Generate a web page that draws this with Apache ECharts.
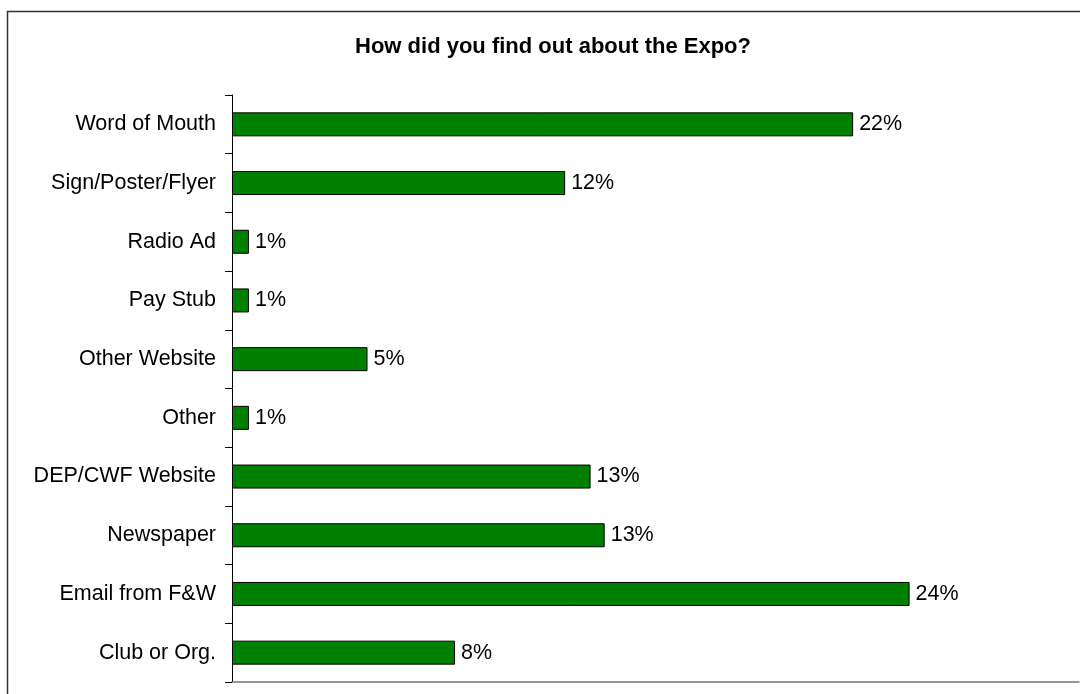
<!DOCTYPE html>
<html>
<head>
<meta charset="utf-8">
<script src="https://cdn.jsdelivr.net/npm/echarts@6/dist/echarts.min.js"></script>
<style>
  html, body { margin: 0; padding: 0; background: #fff; }
  #chart { width: 1080px; height: 694px; }
</style>
</head>
<body>
<div id="chart"></div>
<script>
// Survey answers, listed top to bottom
const categories = [
  'Word of Mouth', 'Sign/Poster/Flyer', 'Radio Ad', 'Pay Stub', 'Other Website',
  'Other', 'DEP/CWF Website', 'Newspaper', 'Email from F&W', 'Club or Org.'
];
// Share of respondents, percent
const shares = [22.0, 11.8, 0.6, 0.6, 4.8, 0.6, 12.7, 13.2, 24.0, 7.9];
const titleText = 'How did you find out about the Expo?';

const chart = echarts.init(document.getElementById('chart'), null, { renderer: 'canvas' });
const font = 'Arial, "Liberation Sans", sans-serif';

chart.setOption({
  animation: false,
  backgroundColor: '#ffffff',
  title: {
    text: titleText,
    left: 548,
    top: 31,
    textAlign: 'center',
    textStyle: { fontFamily: font, fontSize: 22, fontWeight: 'bold', color: '#000' }
  },
  graphic: [{
    type: 'rect',
    shape: { x: 7.5, y: 11.5, width: 1200, height: 800 },
    style: { fill: 'none', stroke: '#333', lineWidth: 1.5 },
    silent: true,
    z: -1
  }],
  grid: { left: 232, right: 1, top: 95, bottom: 12, containLabel: false },
  xAxis: {
    type: 'value',
    min: 0,
    max: 30,
    axisLine: { show: true, onZero: false, lineStyle: { color: '#777', width: 1.5 } },
    axisTick: { show: false },
    axisLabel: { show: false },
    splitLine: { show: false }
  },
  yAxis: {
    type: 'category',
    data: categories,
    inverse: true,
    axisLine: { show: true, lineStyle: { color: '#000', width: 1 } },
    axisTick: { show: true, length: 7, lineStyle: { color: '#000' } },
    axisLabel: { margin: 16, fontFamily: font, fontSize: 21.5, color: '#000' },
    splitLine: { show: false }
  },
  series: [{
    type: 'bar',
    data: shares,
    barWidth: 24,
    itemStyle: { color: '#008000', borderColor: '#000', borderWidth: 1 },
    label: {
      show: true,
      position: 'right',
      distance: 6,
      fontFamily: font,
      fontSize: 21.5,
      color: '#000',
      formatter: p => Math.round(p.value) + '%'
    }
  }]
});
</script>
</body>
</html>
